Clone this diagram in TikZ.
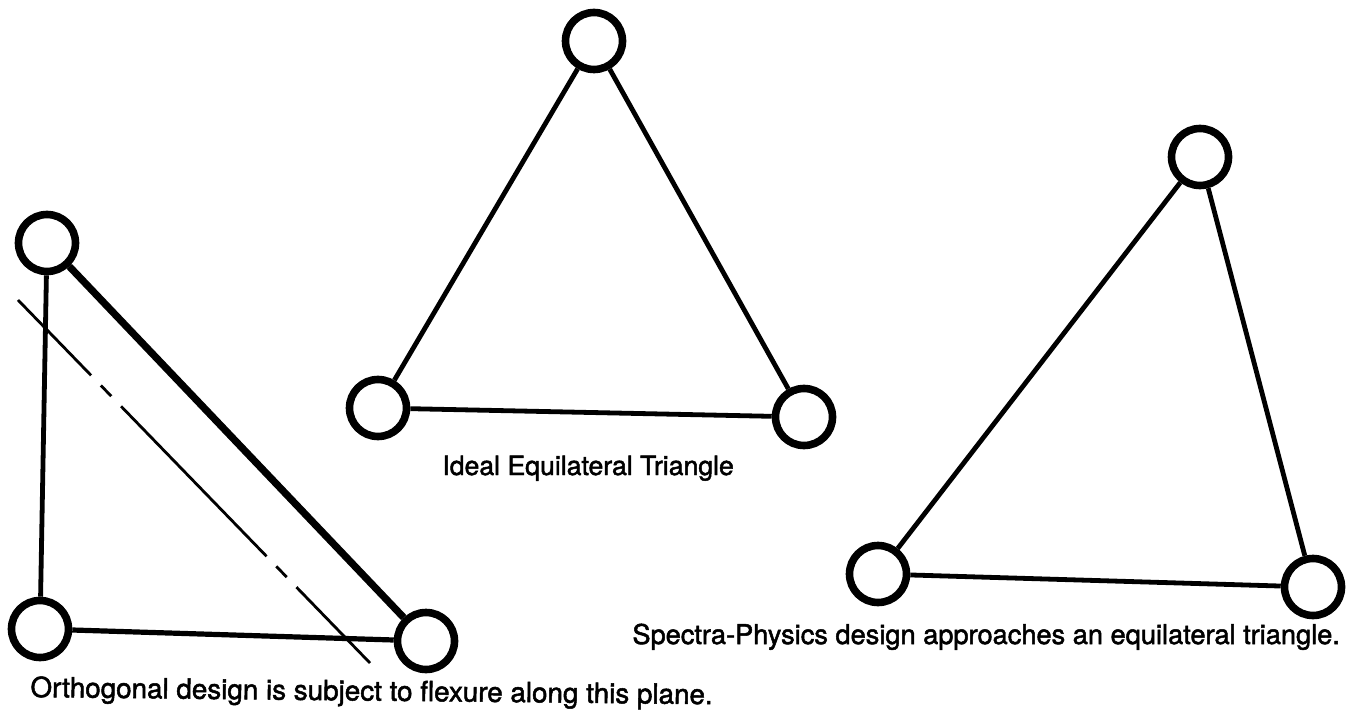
\documentclass[tikz,border=0pt]{standalone}
\usepackage{fontspec}
\setmainfont{TeX Gyre Heros}
\newfontfamily\scanfont{TeX Gyre Heros}[FakeBold=1.8]
\usepackage{tikz}
\usetikzlibrary{positioning, calc}
\tikzset{
    mount/.style={circle, draw=black, line width=3.8pt, minimum size=28.5pt, inner sep=0pt},
    strut/.style={line width=2.4pt},
    heavystrut/.style={line width=3.6pt},
    flexplane/.style={line width=1.4pt, dash pattern=on 104.5pt off 7pt on 7.5pt off 7pt, dash phase=52pt},
    caption/.style={anchor=base west, inner sep=0pt, font=\scanfont\fontsize{13.6pt}{16pt}\selectfont},
}
\begin{document}
\begin{tikzpicture}[x=0.5pt, y=-0.5pt]
        \useasboundingbox (0,0) rectangle (1363,716);

        % Orthogonal design
        \node[mount] (orthtop) at (47,243) {};
        \node[mount] (orthleft) at (40,629) {};
        \node[mount] (orthright) at (426,641) {};
        \coordinate (planestart) at (18,300);
        \coordinate (planeend) at (370,663);

        % Ideal triangle
        \node[mount] (idealtop) at (594,41) {};
        \node[mount] (idealleft) at (378,408) {};
        \node[mount] (idealright) at (804,417) {};

        % Spectra-Physics design
        \node[mount] (sptop) at (1200,157) {};
        \node[mount] (spleft) at (878,574) {};
        \node[mount] (spright) at (1313,587) {};

        % Struts
        \draw[strut] (orthtop) -- (orthleft);
        \draw[heavystrut] (orthtop) -- (orthright);
        \draw[strut, line width=2.6pt] (orthleft) -- (orthright);
        \draw[flexplane] (planestart) -- (planeend);

        \draw[strut] (idealtop) -- (idealleft);
        \draw[strut] (idealtop) -- (idealright);
        \draw[strut] (idealleft) -- (idealright);

        \draw[strut] (sptop) -- (spleft);
        \draw[strut] (sptop) -- (spright);
        \draw[strut] (spleft) -- (spright);

        % Captions
        \node[caption, rotate=-0.6, font=\scanfont\fontsize{13.9pt}{16pt}\selectfont] (orthtext) at (30,697) {Orthogonal design is subject to flexure along this plane.};
        \node[caption, font=\scanfont\fontsize{13.3pt}{16pt}\selectfont] (idealtext) at (442,475) {Ideal Equilateral Triangle};
        \node[caption] (sptext) at (632,644) {Spectra-Physics design approaches an equilateral triangle.};
    \end{tikzpicture}
\end{document}
